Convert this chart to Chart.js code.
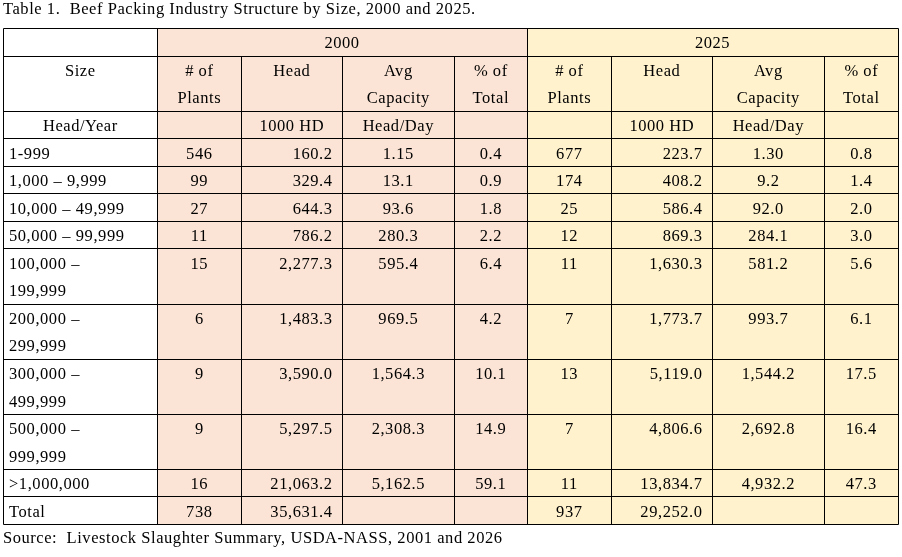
<!DOCTYPE html>
<html>
<head>
<meta charset="utf-8">
<script src="https://cdn.jsdelivr.net/npm/chart.js@4.4.1/dist/chart.umd.min.js"></script>
<style>
html,body{margin:0;padding:0;background:#ffffff;}
canvas{display:block;}
</style>
</head>
<body>
<canvas id="c" width="902" height="557"></canvas>
<script>
// ---------- DATA ----------
const titleText = 'Table 1.  Beef Packing Industry Structure by Size, 2000 and 2025.';
const sourceText = 'Source:  Livestock Slaughter Summary, USDA-NASS, 2001 and 2026';
const years = ['2000', '2025'];
const sizeHeader = 'Size';
const sizeUnit = 'Head/Year';
const statHeaders = [['# of', 'Plants'], ['Head'], ['Avg', 'Capacity'], ['% of', 'Total']];
const statUnits = ['', '1000 HD', 'Head/Day', ''];
const sizeLabels = [
  ['1-999'], ['1,000 – 9,999'], ['10,000 – 49,999'], ['50,000 – 99,999'],
  ['100,000 –', '199,999'], ['200,000 –', '299,999'], ['300,000 –', '499,999'],
  ['500,000 –', '999,999'], ['>1,000,000'], ['Total']
];
const plants2000 = ['546', '99', '27', '11', '15', '6', '9', '9', '16', '738'];
const head2000 = ['160.2', '329.4', '644.3', '786.2', '2,277.3', '1,483.3', '3,590.0', '5,297.5', '21,063.2', '35,631.4'];
const avgCap2000 = ['1.15', '13.1', '93.6', '280.3', '595.4', '969.5', '1,564.3', '2,308.3', '5,162.5', ''];
const pct2000 = ['0.4', '0.9', '1.8', '2.2', '6.4', '4.2', '10.1', '14.9', '59.1', ''];
const plants2025 = ['677', '174', '25', '12', '11', '7', '13', '7', '11', '937'];
const head2025 = ['223.7', '408.2', '586.4', '869.3', '1,630.3', '1,773.7', '5,119.0', '4,806.6', '13,834.7', '29,252.0'];
const avgCap2025 = ['1.30', '9.2', '92.0', '284.1', '581.2', '993.7', '1,544.2', '2,692.8', '4,932.2', ''];
const pct2025 = ['0.8', '1.4', '2.0', '3.0', '5.6', '6.1', '17.5', '16.4', '47.3', ''];

// ---------- LAYOUT / STYLE ----------
const colEdges = [0, 154, 238, 339, 451, 524, 608, 709, 821, 895]; // x-scale units
const headerRowUnits = [1, 2, 1];
const dataRowUnits = [1, 1, 1, 1, 2, 2, 2, 2, 1, 1];
const statAlign = ['center', 'right', 'center', 'center'];
const yearFill = ['#FBE4D5', '#FFF2CC'];
const FONT = '16.5px "Liberation Serif", "Times New Roman", serif';
const LETTER_SPACING = '0.55px';

const seriesByYear = [
  [plants2000, head2000, avgCap2000, pct2000],
  [plants2025, head2025, avgCap2025, pct2025]
];

const totalUnits = headerRowUnits.concat(dataRowUnits).reduce((a, b) => a + b, 0);

const tablePlugin = {
  id: 'tablePlugin',
  afterDraw(chart) {
    const ctx = chart.ctx;
    const xs = chart.scales.x, ys = chart.scales.y;
    const X = v => xs.getPixelForValue(v);
    const Y = v => ys.getPixelForValue(v);
    const unitPx = Math.abs(Y(1) - Y(0));
    const crisp = v => Math.round(v) + 0.5;

    const rowStarts = [];
    let acc = 0;
    headerRowUnits.concat(dataRowUnits).forEach(u => { rowStarts.push(acc); acc += u; });
    rowStarts.push(acc);

    ctx.save();
    years.forEach((yr, k) => {
      const c0 = 1 + k * 4, c1 = c0 + 4;
      ctx.fillStyle = yearFill[k];
      ctx.fillRect(X(colEdges[c0]), Y(0), X(colEdges[c1]) - X(colEdges[c0]), Y(totalUnits) - Y(0));
    });

    ctx.fillStyle = '#000';
    ctx.font = FONT;
    if ('letterSpacing' in ctx) ctx.letterSpacing = LETTER_SPACING;
    ctx.textBaseline = 'alphabetic';
    const base = 20.3;

    function cellText(lines, c, rowUnit, align) {
      const l = X(colEdges[c]), r = X(colEdges[c + 1]);
      let tx;
      if (align === 'left') { ctx.textAlign = 'left'; tx = l + 6; }
      else if (align === 'right') { ctx.textAlign = 'right'; tx = r - 9.5; }
      else { ctx.textAlign = 'center'; tx = (l + r) / 2 + 0.3; }
      const top = Y(rowUnit);
      lines.forEach((s, i) => { if (s) ctx.fillText(s, tx, top + base + i * unitPx); });
    }

    ctx.textAlign = 'left';
    ctx.fillText(titleText, X(0), Y(0) - 14);
    ctx.fillText(sourceText, X(0), Y(totalUnits) + 18.5);

    years.forEach((yr, k) => {
      const c0 = 1 + k * 4, c1 = c0 + 4;
      ctx.textAlign = 'center';
      ctx.fillText(yr, (X(colEdges[c0]) + X(colEdges[c1])) / 2, Y(0) + base);
    });
    cellText([sizeHeader], 0, rowStarts[1], 'center');
    cellText([sizeUnit], 0, rowStarts[2], 'center');
    years.forEach((yr, k) => {
      statHeaders.forEach((h, j) => {
        const c = 1 + k * 4 + j;
        cellText(h, c, rowStarts[1], 'center');
        cellText([statUnits[j]], c, rowStarts[2], 'center');
      });
    });
    sizeLabels.forEach((lab, i) => {
      const ru = rowStarts[3 + i];
      cellText(lab, 0, ru, 'left');
      seriesByYear.forEach((series, k) => {
        series.forEach((arr, j) => {
          cellText([arr[i]], 1 + k * 4 + j, ru, statAlign[j]);
        });
      });
    });

    ctx.strokeStyle = '#000';
    ctx.lineWidth = 1;
    ctx.beginPath();
    const top = crisp(Y(0)), bot = crisp(Y(totalUnits));
    const left = crisp(X(colEdges[0])), right = crisp(X(colEdges[colEdges.length - 1]));
    rowStarts.forEach((u) => {
      const y = crisp(Y(u));
      ctx.moveTo(left, y); ctx.lineTo(right, y);
    });
    colEdges.forEach((e, c) => {
      const x = crisp(X(e));
      if (c === 0 || c === 1 || c === 5 || c === colEdges.length - 1) {
        ctx.moveTo(x, top); ctx.lineTo(x, bot);
      } else {
        ctx.moveTo(x, crisp(Y(rowStarts[1]))); ctx.lineTo(x, bot);
      }
    });
    ctx.stroke();
    ctx.restore();
  }
};

new Chart(document.getElementById('c'), {
  type: 'scatter',
  data: { datasets: [] },
  options: {
    responsive: false,
    animation: false,
    devicePixelRatio: 1,
    layout: { padding: { left: 3, right: 4, top: 28, bottom: 33 } },
    plugins: { legend: { display: false }, tooltip: { enabled: false }, title: { display: false } },
    scales: {
      x: { type: 'linear', min: 0, max: colEdges[colEdges.length - 1], display: false },
      y: { type: 'linear', min: 0, max: totalUnits, reverse: true, display: false }
    }
  },
  plugins: [tablePlugin]
});
</script>
</body>
</html>
